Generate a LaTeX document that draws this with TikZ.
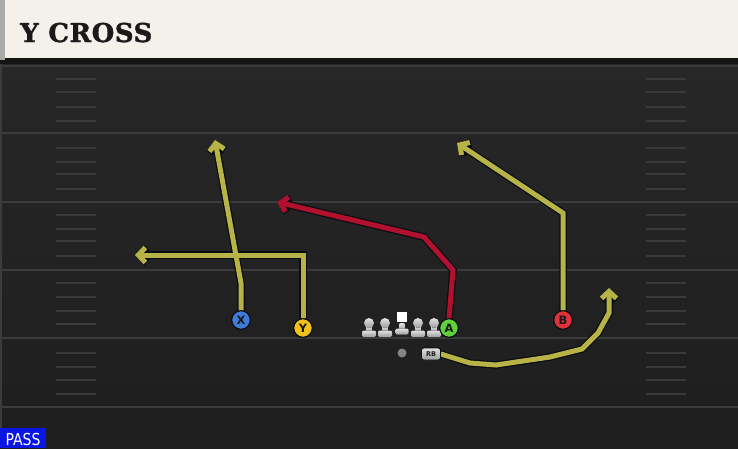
\documentclass[tikz,border=0pt]{standalone}
\usepackage{fontspec}
\setmainfont{DejaVu Sans}
\newfontfamily\titlefont[LetterSpace=2, BoldFeatures={FakeBold=1.3}]{DejaVu Serif}
\newfontfamily\passfont[FakeStretch=0.85]{DejaVu Sans}
\usetikzlibrary{arrows.meta}

\definecolor{cream}{HTML}{F4F1EA}
\definecolor{creamedge}{HTML}{A9ABA8}
\definecolor{topband}{HTML}{151515}
\definecolor{fieldtop}{HTML}{272727}
\definecolor{fieldbot}{HTML}{1E1E1E}
\definecolor{yardline}{HTML}{3B3B3B}
\definecolor{hashc}{HTML}{3A3A3A}
\definecolor{routeY}{HTML}{B7B347}
\definecolor{routeR}{HTML}{B2102F}
\definecolor{outl}{HTML}{0A0D10}
\definecolor{pX}{HTML}{3F7BD8}
\definecolor{pY}{HTML}{F2C21C}
\definecolor{pA}{HTML}{5ED13B}
\definecolor{pB}{HTML}{DF323B}
\definecolor{ink}{HTML}{1A1A1A}
\definecolor{olight}{HTML}{E2E2E2}
\definecolor{odark}{HTML}{9C9C9C}
\definecolor{passblue}{HTML}{0A16E4}

\tikzset{
  player/.style={circle, minimum size=18.5pt, inner sep=0pt, draw=outl, line width=1pt,
    font=\fontsize{11.5}{11.5}\selectfont\bfseries, text=ink},
  rbnode/.style={draw=outl, line width=0.7pt, top color=olight, bottom color=odark, rounded corners=2.5pt,
    minimum width=19pt, minimum height=12pt, inner sep=0pt, text=ink,
    font=\fontsize{6.5}{6.5}\selectfont\bfseries},
  routeout/.style={draw=outl, line width=7.5pt, line join=miter, line cap=butt,
    -{Straight Barb[length=7pt,width=15pt]}},
  routein/.style={line width=5pt, line join=miter, line cap=butt,
    -{Straight Barb[length=7pt,width=15pt]}},
  hashmark/.style={draw=hashc, line width=1.8pt},
  yard/.style={draw=yardline, line width=2pt},
  pics/lineman/.style={code={
    \fill[top color=olight, bottom color=odark] (-2.4,-10) rectangle (2.4,-3);
    \fill[top color=olight, bottom color=odark, rounded corners=1.4pt] (-7,-5.5) rectangle (7,1);
    \fill[top color=olight, bottom color=odark] (0,-13) circle (5);
  }},
  pics/centerman/.style={code={
    \fill[top color=olight, bottom color=odark] (-2.4,-11) rectangle (2.4,-3);
    \fill[top color=olight, bottom color=odark, rounded corners=1.4pt] (-6.5,-5.5) rectangle (6.5,0.5);
    \fill[white] (-5,-22) rectangle (5,-12);
  }}
}

\begin{document}
\begin{tikzpicture}[x=1pt,y=-1pt]
\useasboundingbox (0,0) rectangle (738,448);

% field
\fill[top color=fieldtop, bottom color=fieldbot] (0,58) rectangle (738,448);
\fill[topband] (0,58) rectangle (738,64);
\fill[cream] (0,0) rectangle (738,58);
\fill[creamedge] (0,0) rectangle (5,60);
\fill[yardline] (0,64) rectangle (2,448);

% yard lines
\foreach \yy in {66,133,202,270,338,407}
  \draw[yard] (0,\yy) -- (738,\yy);
% hash marks
\foreach \yy in {79,92,107,121,148,162,174,189,215,229,241,256,283,297,311,324,353,367,380,394}{
  \draw[hashmark] (56,\yy) -- (96,\yy);
  \draw[hashmark] (646,\yy) -- (686,\yy);
}

% title
\node[anchor=base west, inner sep=0pt, text=ink, font=\titlefont\bfseries\fontsize{26}{26}\selectfont]
  (title) at (20,42) {Y CROSS};

% route end points
\coordinate (Xend) at (215,140);
\coordinate (Yend) at (135,255);
\coordinate (Aend) at (277,202);
\coordinate (Bend) at (457,143);
\coordinate (RBend) at (609,288);

% players
\node[player, fill=pX] (X) at (241,320) {X};
\node[player, fill=pY] (Y) at (303,328) {Y};
\node[player, fill=pA] (A) at (449,328) {A};
\node[player, fill=pB] (B) at (563,320) {B};
\node[circle, fill=odark!85!black, minimum size=9pt, inner sep=0pt] (QB) at (402,353) {};
\node[rbnode] (RB) at (431,354) {RB};

% routes: outline pass
\draw[routeout] (X.north) -- (241,283) -- (Xend);
\draw[routeout] (Y.north) -- (303,255) -- (Yend);
\draw[routeout] (B.north) -- (563,213) -- (Bend);
\draw[routeout] (A.north) -- (453,270) -- (424,237) -- (Aend);
\draw[routeout] (RB.east) -- (470,363) -- (496,365) -- (550,357) -- (582,349) -- (598,333) -- (609,313) -- (RBend);
% routes: colour pass
\draw[routein, draw=routeY] (X.north) -- (241,283) -- (Xend);
\draw[routein, draw=routeY] (Y.north) -- (303,255) -- (Yend);
\draw[routein, draw=routeY] (B.north) -- (563,213) -- (Bend);
\draw[routein, draw=routeR] (A.north) -- (453,270) -- (424,237) -- (Aend);
\draw[routein, draw=routeY] (RB.east) -- (470,363) -- (496,365) -- (550,357) -- (582,349) -- (598,333) -- (609,313) -- (RBend);

% redraw players on top of route starts
\node[player, fill=pX] at (X) {X};
\node[player, fill=pY] at (Y) {Y};
\node[player, fill=pB] at (B) {B};
\node[rbnode] at (RB) {RB};

% offensive line
\pic at (369,336) {lineman};
\pic at (385,336) {lineman};
\pic at (402,334) {centerman};
\pic at (418,336) {lineman};
\pic at (434,336) {lineman};
\node[player, fill=pA] at (A) {A};

% pass badge
\fill[passblue] (0,428) rectangle (46,448);
\node[anchor=base, inner sep=0pt, text=white, font=\passfont\fontsize{16.5}{16.5}\selectfont] (pass) at (23,445) {PASS};
\end{tikzpicture}
\end{document}
